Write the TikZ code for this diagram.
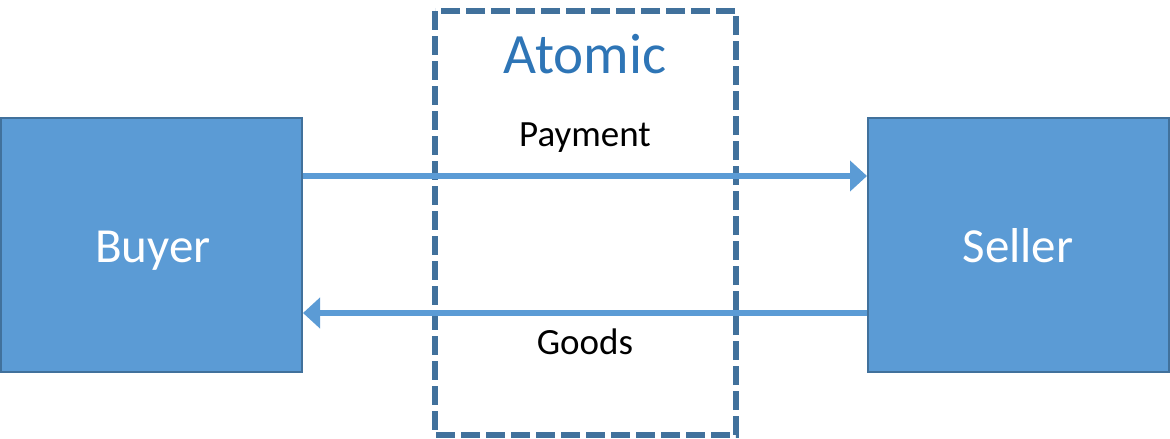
\documentclass[tikz,border=0pt]{standalone}
\usepackage{fontspec}
\setmainfont{Carlito}
\definecolor{boxfill}{HTML}{5B9BD5}
\definecolor{boxline}{HTML}{41719C}
\definecolor{dashline}{HTML}{41719C}
\definecolor{titleblue}{HTML}{2E75B6}
\usetikzlibrary{arrows.meta}
\begin{document}
\begin{tikzpicture}[x=1pt,y=-1pt,
  party/.style={draw=boxline,line width=2pt,fill=boxfill,text=white,font=\fontsize{49}{58}\selectfont,minimum width=301pt,minimum height=254pt,inner sep=0pt},
  flow/.style={draw=boxfill,line width=6pt,-{Triangle[length=17pt,width=30pt]}},
  lbl/.style={font=\fontsize{37}{44}\selectfont,anchor=base,inner sep=0pt}]
\useasboundingbox (0,0) rectangle (1170,439);
\draw[dashline,line width=5.5pt,dash pattern=on 19pt off 6pt] (435,11) rectangle (736,435);
\node[party] (buyer) at (151.5,245) {};
\node[party] (seller) at (1018.5,245) {};
\node[anchor=base,inner sep=0pt,text=white,font=\fontsize{49}{58}\selectfont] (buyertxt) at (153,262) {Buyer};
\node[anchor=base,inner sep=0pt,text=white,font=\fontsize{49}{58}\selectfont] (sellertxt) at (1018,262) {Seller};
\node[anchor=base,inner sep=0pt,text=titleblue,font=\fontsize{57}{68}\selectfont] (atomic) at (585,73) {Atomic};
\node[lbl] (pay) at (585,146) {Payment};
\node[lbl] (goods) at (585,354) {Goods};
\coordinate (a1) at (buyer.east |- 0,176);
\coordinate (a2) at (seller.west |- 0,176);
\coordinate (b1) at (seller.west |- 0,313);
\coordinate (b2) at (buyer.east |- 0,313);
\draw[flow] (a1) -- (a2);
\draw[flow] (b1) -- (b2);
\end{tikzpicture}
\end{document}
